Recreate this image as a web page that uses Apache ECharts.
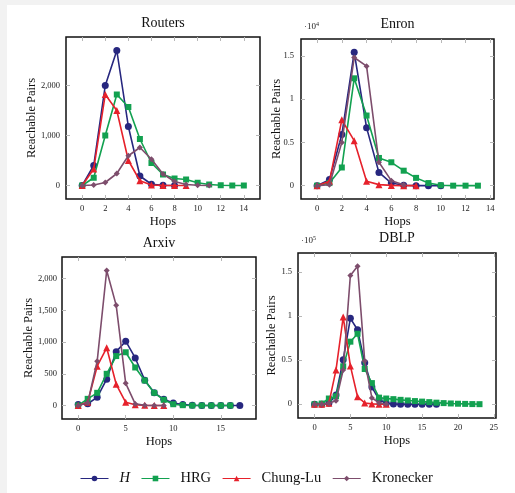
<!DOCTYPE html>
<html>
<head>
<meta charset="utf-8">
<script src="https://cdn.jsdelivr.net/npm/echarts@6/dist/echarts.min.js"></script>
<style>
  html, body { margin: 0; padding: 0; background: #fff; }
  #chart { width: 515px; height: 493px; }
</style>
</head>
<body>
<div id="chart"></div>
<script>
// reachable pairs per hop count
// (Enron values are in units of 10^4, DBLP in units of 10^5)
const seriesNames = ['H', 'HRG', 'Chung-Lu', 'Kronecker'];

const routersH = [0, 400, 2000, 2700, 1180, 190, 25, 5, 0];
const routersHRG = [0, 155, 1000, 1820, 1570, 930, 450, 220, 140, 120, 55, 20, 5, 0, 0];
const routersCL = [0, 330, 1820, 1500, 500, 95, 10, 2, 0, 0];
const routersKron = [0, 10, 60, 240, 595, 760, 525, 230, 80, 20, 5, 0];

const enronH = [0, 0.07, 0.59, 1.54, 0.67, 0.153, 0.03, 0.005, 0, 0, 0];
const enronHRG = [0, 0.03, 0.21, 1.24, 0.81, 0.32, 0.27, 0.173, 0.09, 0.03, 0.005, 0, 0, 0];
const enronCL = [0, 0.05, 0.76, 0.52, 0.05, 0.012, 0.003, 0, 0];
const enronKron = [0, 0.01, 0.5, 1.48, 1.38, 0.27, 0.058, 0.01];

const arxivH = [15, 26, 130, 415, 850, 1015, 750, 400, 200, 100, 40, 15, 5, 0, 0, 0, 0, 0];
const arxivHRG = [0, 105, 200, 500, 780, 840, 600, 395, 200, 90, 20, 5, 0, 0, 0, 0, 0];
const arxivCL = [0, 50, 620, 910, 335, 50, 12, 2, 0, 0];
const arxivKron = [0, 40, 700, 2130, 1580, 350, 25, 5, 0, 0];

const dblpH = [0, 0, 0.01, 0.105, 0.505, 0.975, 0.845, 0.47, 0.195, 0.053, 0.011, 0.003, 0, 0, 0, 0, 0, 0];
const dblpHRG = [0, 0.008, 0.065, 0.09, 0.43, 0.71, 0.8, 0.4, 0.24, 0.075, 0.065, 0.058, 0.05, 0.043,
  0.036, 0.03, 0.024, 0.018, 0.013, 0.009, 0.006, 0.004, 0.002, 0.001];
const dblpCL = [0, 0, 0.01, 0.39, 0.99, 0.435, 0.085, 0.015, 0.004, 0.001, 0];
const dblpKron = [0, 0, 0.01, 0.04, 0.39, 1.46, 1.565, 0.49, 0.072, 0.015, 0.003];

// tick labels
const routersXTicks = [0, 2, 4, 6, 8, 10, 12, 14];
const routersYTicks = [0, 1000, 2000];
const enronXTicks = [0, 2, 4, 6, 8, 10, 12, 14];
const enronYTicks = [0, 0.5, 1, 1.5];
const arxivXTicks = [0, 5, 10, 15];
const arxivYTicks = [0, 500, 1000, 1500, 2000];
const dblpXTicks = [0, 5, 10, 15, 20, 25];
const dblpYTicks = [0, 0.5, 1, 1.5];

const FONT = '"Liberation Serif", "DejaVu Serif", serif';
const TICK_GRAY = '#b8b8b8';

const STYLES = {
  H: { color: '#27277f', symbol: 'circle', size: 7 },
  HRG: { color: '#12a150', symbol: 'rect', size: 6 },
  'Chung-Lu': { color: '#e6212b', symbol: 'triangle', size: 7 },
  Kronecker: { color: '#7d4d6c', symbol: 'diamond', size: 6 },
};

const panels = [
  {
    title: 'Routers', grid: { left: 66, top: 37, width: 194, height: 162 },
    x: [-1.4, 15.4], y: [-270, 2970], xTicks: routersXTicks, yTicks: routersYTicks,
    labelMargin: 6, yNameGap: 28, series: [routersH, routersHRG, routersCL, routersKron],
  },
  {
    title: 'Enron', grid: { left: 301, top: 39, width: 193, height: 160 }, exp: '4',
    x: [-1.3, 14.3], y: [-0.154, 1.694], xTicks: enronXTicks, yTicks: enronYTicks,
    labelMargin: 7, yNameGap: 18, series: [enronH, enronHRG, enronCL, enronKron],
  },
  {
    title: 'Arxiv', grid: { left: 62, top: 257, width: 194, height: 162 },
    x: [-1.7, 18.7], y: [-213, 2343], xTicks: arxivXTicks, yTicks: arxivYTicks,
    labelMargin: 5, yNameGap: 27, series: [arxivH, arxivHRG, arxivCL, arxivKron],
  },
  {
    title: 'DBLP', grid: { left: 298, top: 253, width: 198, height: 165 }, exp: '5',
    x: [-2.3, 25.3], y: [-0.156, 1.716], xTicks: dblpXTicks, yTicks: dblpYTicks,
    labelMargin: 6, yNameGap: 20, series: [dblpH, dblpHRG, dblpCL, dblpKron],
  },
];

function fmt(v) {
  return v >= 1000 ? v.toLocaleString('en-US') : String(v);
}

const grids = [], xAxes = [], yAxes = [], series = [], graphics = [];

// light grey page strip on the left and top edges
graphics.push({ type: 'rect', shape: { x: 0, y: 0, width: 7, height: 493 }, style: { fill: '#f2f2f2' }, silent: true });
graphics.push({ type: 'rect', shape: { x: 0, y: 0, width: 515, height: 5 }, style: { fill: '#f2f2f2' }, silent: true });

panels.forEach((p, i) => {
  grids.push(Object.assign({ show: true, borderColor: '#111', borderWidth: 1.5, backgroundColor: '#fff' }, p.grid));

  const tickStyle = { show: true, inside: true, length: 4, lineStyle: { color: TICK_GRAY, width: 1 } };
  const base = {
    type: 'value', gridIndex: i,
    axisLine: { show: false, onZero: false },
    splitLine: { show: false },
  };

  xAxes.push(Object.assign({}, base, {
    min: p.x[0], max: p.x[1], position: 'bottom',
    name: 'Hops', nameLocation: 'middle', nameGap: 16, nameMoveOverlap: false,
    nameTextStyle: { fontFamily: FONT, fontSize: 12.5, color: '#111' },
    axisTick: Object.assign({ customValues: p.xTicks }, tickStyle),
    axisLabel: { customValues: p.xTicks, margin: 5, fontFamily: FONT, fontSize: 8.5, color: '#222', formatter: fmt },
  }));
  xAxes.push(Object.assign({}, base, {
    min: p.x[0], max: p.x[1], position: 'top',
    axisTick: Object.assign({ customValues: p.xTicks }, tickStyle),
    axisLabel: { show: false },
  }));

  yAxes.push(Object.assign({}, base, {
    min: p.y[0], max: p.y[1], position: 'left',
    name: 'Reachable Pairs', nameLocation: 'middle', nameGap: p.yNameGap, nameRotate: 90,
    nameMoveOverlap: false,
    nameTextStyle: { fontFamily: FONT, fontSize: 12.5, color: '#111' },
    axisTick: Object.assign({ customValues: p.yTicks }, tickStyle),
    axisLabel: { customValues: p.yTicks, margin: p.labelMargin, fontFamily: FONT, fontSize: 8.5, color: '#222', formatter: fmt },
  }));
  yAxes.push(Object.assign({}, base, {
    min: p.y[0], max: p.y[1], position: 'right',
    axisTick: Object.assign({ customValues: p.yTicks }, tickStyle),
    axisLabel: { show: false },
  }));

  p.series.forEach((vals, k) => {
    const name = seriesNames[k];
    const st = STYLES[name];
    series.push({
      type: 'line', name,
      xAxisIndex: 2 * i, yAxisIndex: 2 * i,
      data: vals.map((v, h) => [h, v]),
      symbol: st.symbol, symbolSize: st.size, showSymbol: true,
      lineStyle: { color: st.color, width: 1.6 },
      itemStyle: { color: st.color },
      emphasis: { disabled: true },
      z: 2 + k,
    });
  });

  const cx = p.grid.left + p.grid.width / 2;
  graphics.push({
    type: 'text', x: cx, y: p.grid.top - (p.exp ? 15 : 14),
    style: { text: p.title, fontFamily: FONT, fontSize: 14, fill: '#111', align: 'center', verticalAlign: 'middle' },
  });
  if (p.exp) {
    graphics.push({
      type: 'text', x: p.grid.left + 3, y: p.grid.top - 7,
      style: {
        text: '·10{s|' + p.exp + '}', fontFamily: FONT, fontSize: 9, fill: '#222', verticalAlign: 'bottom',
        rich: { s: { fontFamily: FONT, fontSize: 6, verticalAlign: 'top', padding: [0, 0, 5, 0] } },
      },
    });
  }
});

const chart = echarts.init(document.getElementById('chart'));
chart.setOption({
  animation: false,
  backgroundColor: '#fff',
  grid: grids,
  xAxis: xAxes,
  yAxis: yAxes,
  series,
  graphic: graphics,
  legend: {
    data: seriesNames,
    left: 75, top: 466,
    itemWidth: 28, itemHeight: 7, itemGap: 11,
    lineStyle: { width: 1 },
    textStyle: {
      fontFamily: FONT, fontSize: 14.5, color: '#111', padding: [0, 0, 0, 6],
      rich: { i: { fontFamily: FONT, fontSize: 14.5, fontStyle: 'italic', color: '#111' } },
    },
    formatter: n => (n === 'H' ? '{i|H}' : n),
  },
});
</script>
</body>
</html>
